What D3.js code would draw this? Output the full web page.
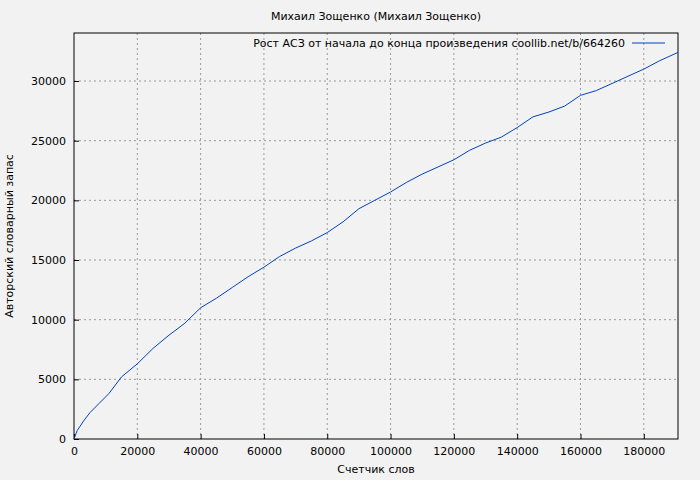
<!DOCTYPE html>
<html><head><meta charset="utf-8">
<script src="https://cdn.jsdelivr.net/npm/d3@7"></script>
<style>body{margin:0;background:#f2f2f2}text{font-family:"DejaVu Sans",sans-serif;font-size:11px;fill:#000}</style>
</head><body><svg id="c" width="700" height="480"></svg>
<script>
const wordsX=[0,1000,3000,5000,8000,11000,15000,20000,25000,30000,35000,40000,45000,50000,55000,60000,65000,70000,75000,80000,85000,90000,95000,100000,105000,110000,115000,120000,125000,130000,135000,140000,145000,150000,155000,160000,165000,170000,175000,180000,185000,190800];
const vocabY=[0,700,1500,2200,3000,3800,5200,6300,7600,8700,9700,11000,11800,12700,13600,14400,15300,16000,16600,17300,18200,19300,20000,20700,21500,22200,22800,23400,24200,24800,25300,26100,27000,27400,27900,28800,29200,29800,30400,31000,31700,32400];
const xTicks=d3.range(0,190000,20000), yTicks=d3.range(0,34000,5000);
const svg=d3.select("#c"), L=74,R=678,T=33,B=439;
const x=d3.scaleLinear().domain([0,190800]).range([L,R]);
const y=d3.scaleLinear().domain([0,34025]).range([B,T]);
const g=svg.append("g");
xTicks.forEach(t=>{if(t>0)g.append("line").attr("x1",x(t)).attr("x2",x(t)).attr("y1",T).attr("y2",B).attr("stroke","#999").attr("stroke-dasharray","2,3");});
yTicks.forEach(t=>{if(t>0)g.append("line").attr("x1",L).attr("x2",R).attr("y1",y(t)).attr("y2",y(t)).attr("stroke","#999").attr("stroke-dasharray","2,3");});
const ax=svg.append("g").attr("transform",`translate(0,${B})`).call(d3.axisBottom(x).tickValues(xTicks).tickFormat(d3.format("d")).tickSize(-5).tickPadding(8));
const ay=svg.append("g").attr("transform",`translate(${L},0)`).call(d3.axisLeft(y).tickValues(yTicks).tickFormat(d3.format("d")).tickSize(-5).tickPadding(8));
[ax,ay].forEach(a=>{a.select(".domain").remove();a.selectAll("text").style("font-family","DejaVu Sans").style("font-size","11px");a.selectAll("line").attr("stroke","#000");});
svg.append("rect").attr("x",L).attr("y",T).attr("width",R-L).attr("height",B-T).attr("fill","none").attr("stroke","#000");
svg.append("path").datum(wordsX.map((d,i)=>[d,vocabY[i]])).attr("fill","none").attr("stroke","#0044bb").attr("stroke-width",1)
 .attr("d",d3.line().x(d=>x(d[0])).y(d=>y(d[1])));
svg.append("text").attr("x",376).attr("y",20).attr("text-anchor","middle").text("Михаил Зощенко (Михаил Зощенко)");
svg.append("text").attr("x",376).attr("y",473).attr("text-anchor","middle").text("Счетчик слов");
svg.append("text").attr("transform","translate(13,236) rotate(-90)").attr("text-anchor","middle").text("Авторский словарный запас");
svg.append("text").attr("x",625).attr("y",47).attr("text-anchor","end").text("Рост АСЗ от начала до конца произведения coollib.net/b/664260");
svg.append("line").attr("x1",632).attr("x2",665).attr("y1",43).attr("y2",43).attr("stroke","#0044bb");
</script></body></html>
